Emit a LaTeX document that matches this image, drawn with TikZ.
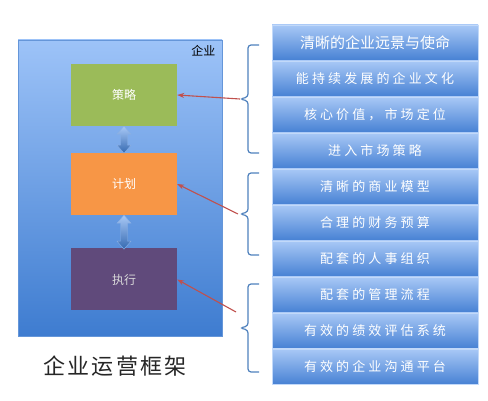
\documentclass[tikz,border=0pt]{standalone}
\usepackage{fontspec}
\setmainfont{Noto Sans CJK SC}
\newfontfamily\WideCJK[LetterSpace=24]{Noto Sans CJK SC}
\newfontfamily\TitleCJK[LetterSpace=10]{Noto Sans CJK SC}
\usepackage{xcolor}
\definecolor{Col1}{RGB}{157,195,248}
\definecolor{Col2}{RGB}{62,124,208}
\definecolor{Col3}{RGB}{168,200,246}
\definecolor{Col4}{RGB}{72,130,212}
\definecolor{ColG}{RGB}{155,187,89}
\definecolor{ColO}{RGB}{247,150,70}
\definecolor{ColP}{RGB}{96,74,123}
\definecolor{ColR}{RGB}{192,80,77}
\definecolor{ColB}{RGB}{79,129,189}
\usetikzlibrary{arrows.meta}
\tikzstyle{Frame}=[draw=Col2!80,top color=Col1,bottom color=Col2,
inner sep=0pt,minimum width=204pt,minimum height=296pt]
\tikzstyle{Stage}=[inner sep=0pt,minimum width=106pt,minimum height=62pt,
text=white,font=\fontsize{12}{12}\selectfont]
\tikzstyle{Item}=[draw=Col3!70!white,top color=Col3,bottom color=Col4,
inner sep=0pt,minimum width=206pt,minimum height=35pt,text=white,
font=\fontsize{13}{13}\selectfont\WideCJK]
\tikzstyle{Twin}=[top color=Col3,bottom color=Col2!85!black,
draw=Col2!60,line width=.4pt]
\tikzstyle{Edge}=[draw=ColR,line width=1.1pt,-{Stealth[length=7pt,width=5pt]}]
\tikzstyle{Brace}=[draw=ColB,line width=1.2pt,rounded corners=3pt]

\begin{document}
\begin{tikzpicture}[x=1pt,y=-1pt]
        \useasboundingbox(0,0)rectangle(488,401);
        \node[Frame](f)at(120,188){};
        \node[anchor=east,font=\fontsize{12}{12}\selectfont]at(219,51){企业};
        \node[Stage,fill=ColG](1)at(124,95){策略};
        \node[Stage,fill=ColO](2)at(124,184){计划};
        \node[Stage,fill=ColP,text=white!85!black](3)at(124,279.5){执行};
        \shade[Twin](1.south)--++(7,8)--++(-3.5,0)--++(0,11)--++(3.5,0)
            --++(-7,8)--++(-7,-8)--++(3.5,0)--++(0,-11)--++(-3.5,0)--cycle;
        \shade[Twin](2.south)--++(7,8)--++(-3.5,0)--++(0,18)--++(3.5,0)
            --++(-7,8)--++(-7,-8)--++(3.5,0)--++(0,-18)--++(-3.5,0)--cycle;
        \node[font=\fontsize{22}{22}\selectfont\TitleCJK,text=black!85]
            (t)at(115,366){企业运营框架};
        \node[Item,font=\fontsize{15}{15}\selectfont](4)at(375,42.5)
            {清晰的企业远景与使命};
        \node[Item](5)at(375,78.5){能持续发展的企业文化};
        \node[Item](6)at(375,114.5){核心价值，市场定位};
        \node[Item](7)at(375,150.5){进入市场策略};
        \node[Item](8)at(375,186.5){清晰的商业模型};
        \node[Item](9)at(375,222.5){合理的财务预算};
        \node[Item](10)at(375,258.5){配套的人事组织};
        \node[Item](11)at(375,294.5){配套的管理流程};
        \node[Item](12)at(375,330.5){有效的绩效评估系统};
        \node[Item](13)at(375,366.5){有效的企业沟通平台};
        \draw[Brace](259,45)--(248,45)--(248,97)--(240,99)--(248,101)
            --(248,153)--(259,153);
        \draw[Brace](259,173)--(248,173)--(248,212)--(240,214)--(248,216)
            --(248,255)--(259,255);
        \draw[Brace](259,284)--(248,284)--(248,326)--(240,328)--(248,330)
            --(248,372)--(259,372);
        \coordinate(b1)at(240,99);
        \coordinate(b2)at(238,214);
        \coordinate(b3)at(236,312);
        \draw[Edge](b1)--(1.east);
        \draw[Edge](b2)--(2.east);
        \draw[Edge](b3)--(3.east);
    \end{tikzpicture}
\end{document}
